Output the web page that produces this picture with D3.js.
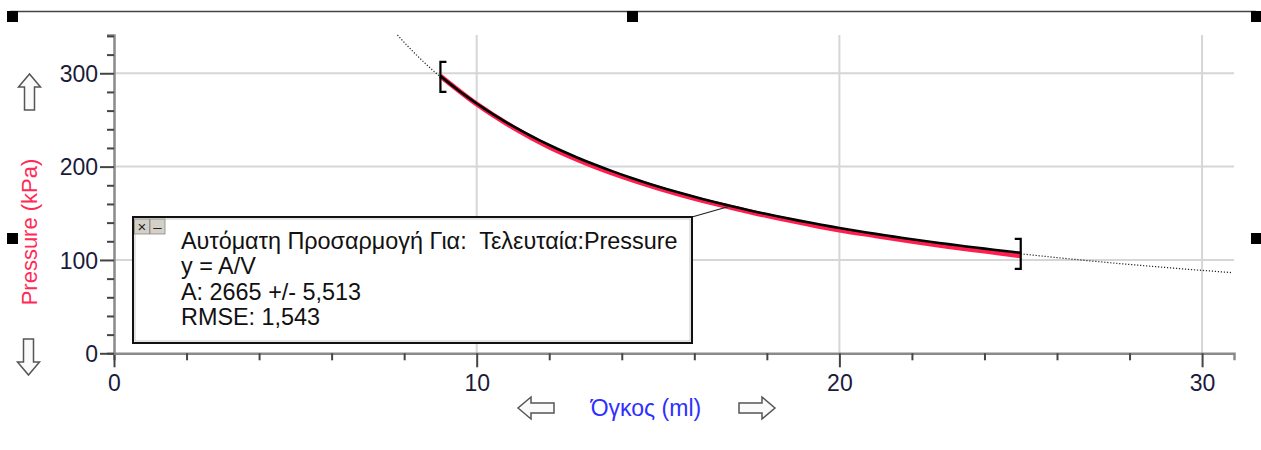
<!DOCTYPE html>
<html>
<head>
<meta charset="utf-8">
<script src="https://cdn.jsdelivr.net/npm/d3@7"></script>
<style>
  body { margin:0; background:#fff; }
  .canvas { width:1261px; height:450px; }
  text { font-family:"Liberation Sans", Arial, sans-serif; }
</style>
</head>
<body>
<div class="canvas"></div>
<script>
// data
const volumes   = [9,10,11,12,13,14,15,16,17,18,19,20,21,22,23,24,25];
const pressures = [297,267,242,221,204,189.5,177,166,156.5,147.5,139.5,132,126,120,114.5,109.5,104.5];
const fitA = 2665;
const fitLines = ['Αυτόματη Προσαρμογή Για:  Τελευταία:Pressure','y = A/V','A: 2665 +/- 5,513','RMSE: 1,543'];
const xTicks = [0,10,20,30];
const yTicks = [0,100,200,300];

const W = 1261, H = 450;

var svg = d3.select('.canvas').append('svg')
	.attr('width',W).attr('height',H);

var x = d3.scaleLinear().domain([0,30.88]).range([114,1234]);
var y = d3.scaleLinear().domain([0,341]).range([353.3,35]);

// frame line + selection handles
svg.append('line')
	.attr('x1',10).attr('x2',1256).attr('y1',11.5).attr('y2',11.5)
	.attr('stroke','#444').attr('stroke-width',1.5);
[[7,11],[627,11],[1251,11],[7,233],[1251,233]].forEach(p=>{
	svg.append('rect').attr('x',p[0]).attr('y',p[1]).attr('width',11).attr('height',11).attr('fill','#000');
});

// grid
var grid = svg.append('g').attr('stroke','#d6d6d6').attr('stroke-width',2);
grid.selectAll('.gx').data(xTicks.filter(d=>d>0)).enter().append('line')
	.attr('x1',d=>x(d)).attr('x2',d=>x(d)).attr('y1',y(341)).attr('y2',y(0));
grid.selectAll('.gy').data(yTicks.filter(d=>d>0)).enter().append('line')
	.attr('x1',x(0)).attr('x2',x(30.88)).attr('y1',d=>y(d)).attr('y2',d=>y(d));

// axes
var xAxis = svg.append('g').attr('transform',`translate(0,${y(0)})`)
	.call(d3.axisBottom(x).tickValues(d3.range(0,31,2)).tickSize(7).tickFormat(''));
xAxis.selectAll('.tick line').filter(d=>d%10===0).attr('y2',14);
var xLab = svg.append('g').attr('transform',`translate(0,${y(0)})`)
	.call(d3.axisBottom(x).tickValues(xTicks).tickSize(0).tickPadding(21));
xLab.select('.domain').remove();

var yAxis = svg.append('g').attr('transform',`translate(${x(0)},0)`)
	.call(d3.axisLeft(y).tickValues(d3.range(0,341,20)).tickSize(7).tickFormat(''));
yAxis.selectAll('.tick line').filter(d=>d%100===0).attr('x2',-14);
var yLab = svg.append('g').attr('transform',`translate(${x(0)},0)`)
	.call(d3.axisLeft(y).tickValues(yTicks).tickSize(0).tickPadding(16));
yLab.select('.domain').remove();

[xAxis,yAxis].forEach(a=>{
	a.select('.domain').attr('stroke','#8a8a8a').attr('stroke-width',2.5);
	a.selectAll('.tick line').attr('stroke','#444').attr('stroke-width',2);
});
[xLab,yLab].forEach(a=>{
	a.attr('font-size',23);
	a.selectAll('text').attr('font-size',23).attr('fill','#1a1a3a')
		.style('font-family','"Liberation Sans", Arial, sans-serif');
});
yLab.selectAll('text').attr('dy','0.35em');

// fit curve, dotted extension
var line = d3.line().x(d=>x(d[0])).y(d=>y(d[1]));
var dotted = d3.range(fitA/341,30.85,0.1).map(v=>[v,fitA/v]);
svg.append('path').attr('d',line(dotted))
	.attr('fill','none').attr('stroke','#222').attr('stroke-width',1.2)
	.attr('stroke-dasharray','1.2,1.8');

// data (red)
svg.append('path').datum(volumes.map((v,i)=>[v,pressures[i]]))
	.attr('d',line.curve(d3.curveMonotoneX))
	.attr('fill','none').attr('stroke','#ff1f4f').attr('stroke-width',5);

// fit over data range (black)
var fitPts = d3.range(9,25.01,0.25).map(v=>[v,fitA/v]);
svg.append('path').attr('d',d3.line().x(d=>x(d[0])).y(d=>y(d[1])-1)(fitPts))
	.attr('fill','none').attr('stroke','#000').attr('stroke-width',2.6);

// brackets
function bracket(v,dir){
	var cx = x(v), cy = y(fitA/v);
	var xa = cx + dir*6;
	svg.append('path')
		.attr('d',`M${xa},${cy-15}H${cx}V${cy+15}H${xa}`)
		.attr('fill','none').attr('stroke','#000').attr('stroke-width',2.2);
}
bracket(9,1);
bracket(25,-1);

// annotation box
var bx = 133, by = 217, bw = 559, bh = 126;
svg.append('line')
	.attr('x1',bx+bw).attr('y1',by).attr('x2',x(16.95)).attr('y2',y(fitA/16.95))
	.attr('stroke','#222').attr('stroke-width',1.2);
svg.append('rect').attr('x',bx).attr('y',by).attr('width',bw).attr('height',bh)
	.attr('fill','#fff').attr('stroke','#111').attr('stroke-width',2);
svg.append('rect').attr('x',bx+2).attr('y',by+2).attr('width',bw-4).attr('height',bh-4)
	.attr('fill','none').attr('stroke','#bbb').attr('stroke-width',0.8);
// close / minimize buttons
[['×',bx+1.5],['–',bx+17]].forEach(b=>{
	svg.append('rect').attr('x',b[1]).attr('y',by+2).attr('width',15).attr('height',15)
		.attr('fill','#d4d0c8').attr('stroke','#888').attr('stroke-width',0.8);
	svg.append('text').attr('x',b[1]+7.5).attr('y',by+14.5).attr('text-anchor','middle')
		.attr('font-size',15).attr('fill','#222').text(b[0]);
});
svg.append('g').selectAll('text').data(fitLines).enter().append('text')
	.attr('x',bx+48).attr('y',(d,i)=>by+32+i*25.3)
	.attr('font-size',23.4).attr('fill','#111').style('white-space','pre').text(d=>d);

// axis labels
svg.append('text').attr('transform','translate(37,232) rotate(-90)')
	.attr('text-anchor','middle').attr('font-size',22).attr('fill','#ff2a55')
	.text('Pressure (kPa)');
svg.append('text').attr('x',646).attr('y',416)
	.attr('text-anchor','middle').attr('font-size',23).attr('fill','#2f2fff')
	.text('Όγκος (ml)');

// scroll arrows
var arrowUp = 'M0,-18 L-11,-5 L-5,-5 L-5,18 L5,18 L5,-5 L11,-5 Z';
function arrow(tx,ty,rot){
	svg.append('path').attr('d',arrowUp)
		.attr('transform',`translate(${tx},${ty}) rotate(${rot})`)
		.attr('fill','#fafafa').attr('stroke','#555').attr('stroke-width',1.5);
}
arrow(29.5,92,0);
arrow(28.5,357,180);
arrow(536,408,-90);
arrow(757,408,90);
</script>
</body>
</html>
